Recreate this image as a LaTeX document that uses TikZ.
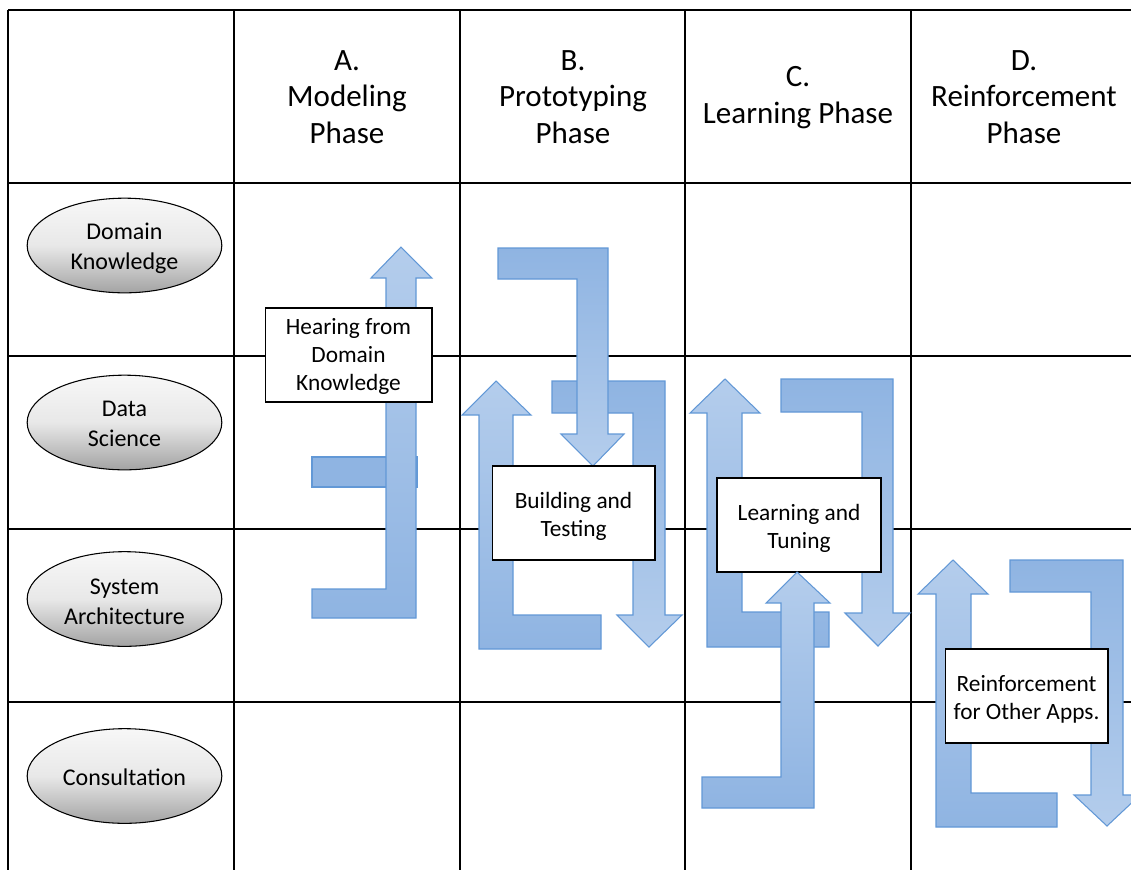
\documentclass[tikz,border=0pt]{standalone}
\usepackage{fontspec}
\setmainfont{Carlito}
\usetikzlibrary{shapes.geometric}
\definecolor{arrdark}{RGB}{143,180,226}
\definecolor{arrlight}{RGB}{180,205,236}
\definecolor{arredge}{RGB}{98,152,214}
\begin{document}
\begin{tikzpicture}[x=0.75pt,y=-0.75pt,
  gridline/.style={line width=1.5pt, black},
  uparr/.style={draw=arredge, line width=0.8pt, top color=arrlight, bottom color=arrdark},
  downarr/.style={draw=arredge, line width=0.8pt, top color=arrdark, bottom color=arrlight},
  flatarr/.style={draw=arredge, line width=0.8pt, fill=arrdark},
  head/.style={align=center, font=\fontsize{23.25}{27.4}\selectfont},
  role/.style={ellipse, draw=black, line width=0.8pt, minimum width=146pt, minimum height=71pt, inner sep=0pt,
    top color=black!3, bottom color=black!36, middle color=black!9},
  roletext/.style={align=center, inner sep=0pt, font=\fontsize{18}{22.5}\selectfont},
  phasebox/.style={draw=black, line width=1pt, fill=white, inner sep=0pt},
  boxtext/.style={align=center, inner sep=0pt, font=\fontsize{17.5}{21}\selectfont}]
\useasboundingbox (0,0) rectangle (1131,869);
\clip (0,0) rectangle (1131,869);
% grid
\foreach \yy in {10,183,356,529,702} \draw[gridline] (8,\yy) -- (1135,\yy);
\foreach \xx in {8,234,460,685,911} \draw[gridline] (\xx,10) -- (\xx,872);
% header
\node[head] (hA) at (347,97) {A.\\Modeling\\Phase};
\node[head] (hB) at (573,97) {B.\\Prototyping\\Phase};
\node[head] (hC) at (798,97.5) {C.\\Learning Phase};
\node[head] (hD) at (1024,97) {D.\\Reinforcement\\Phase};
% roles
\node[role] (dk) at (124.5,245.5) {};
\node[role] (ds) at (124.5,422.5) {};
\node[role] (sa) at (124.5,599) {};
\node[role] (co) at (124.5,776) {};
\node[roletext] (dkt) at (124.5,248) {Domain\\Knowledge};
\node[roletext] (dst) at (124.5,424) {Data\\Science};
\node[roletext] (sat) at (124.5,602) {System\\Architecture};
\node[roletext] (cot) at (124.5,777.5) {Consultation};
% column A arrows
\path[flatarr] (312,457) rectangle (417,487);
\path[uparr] (312,618) -- (416,618) -- (416,278) -- (432,278) -- (401,247) -- (371,278) -- (386,278) -- (386,589) -- (312,589) -- cycle;
% column B arrows
\path[uparr] (601,649) -- (479,649) -- (479,415) -- (462,415) -- (496,381) -- (531,415) -- (513,415) -- (513,615) -- (601,615) -- cycle;
\path[downarr] (552,381) -- (665,381) -- (665,615) -- (682,615) -- (649,647) -- (617,615) -- (633,615) -- (633,413) -- (552,413) -- cycle;
\path[downarr] (498,248) -- (608,248) -- (608,434) -- (624,434) -- (593,466) -- (561,434) -- (577,434) -- (577,279) -- (498,279) -- cycle;
% column C arrows
\path[uparr] (829,647) -- (707,647) -- (707,413) -- (690,413) -- (725,379) -- (760,413) -- (742,413) -- (742,612) -- (829,612) -- cycle;
\path[downarr] (781,379) -- (893,379) -- (893,613) -- (910,613) -- (878,646) -- (845,613) -- (862,613) -- (862,412) -- (781,412) -- cycle;
% column D arrows
\path[uparr] (1057,827) -- (936,827) -- (936,594) -- (918,594) -- (953,560) -- (988,594) -- (971,594) -- (971,793) -- (1057,793) -- cycle;
\path[downarr] (1010,560) -- (1123,560) -- (1123,795) -- (1140,795) -- (1107,826) -- (1074,795) -- (1091,795) -- (1091,592) -- (1010,592) -- cycle;
% boxes
\node[phasebox, minimum width=125pt, minimum height=70.5pt] (bA) at (348.5,355) {};
\node[phasebox, minimum width=122pt, minimum height=70.5pt] (bB) at (573.5,513) {};
\node[phasebox, minimum width=123pt, minimum height=70.5pt] (bC) at (799,525) {};
\node[phasebox, minimum width=122pt, minimum height=70.5pt] (bD) at (1026.5,696) {};
\node[boxtext] (tA) at (348.5,356.5) {Hearing from\\Domain\\Knowledge};
\node[boxtext] (tB) at (573.5,516) {Building and\\Testing};
\node[boxtext] (tC) at (799,528) {Learning and\\Tuning};
\node[boxtext] (tD) at (1026.5,699) {Reinforcement\\for Other Apps.};
% bottom arrow of column C (over the box edge)
\path[uparr] (702,808) -- (814,808) -- (814,603) -- (830,603) -- (797,572) -- (766,603) -- (781,603) -- (781,777) -- (702,777) -- cycle;
\end{tikzpicture}
\end{document}
